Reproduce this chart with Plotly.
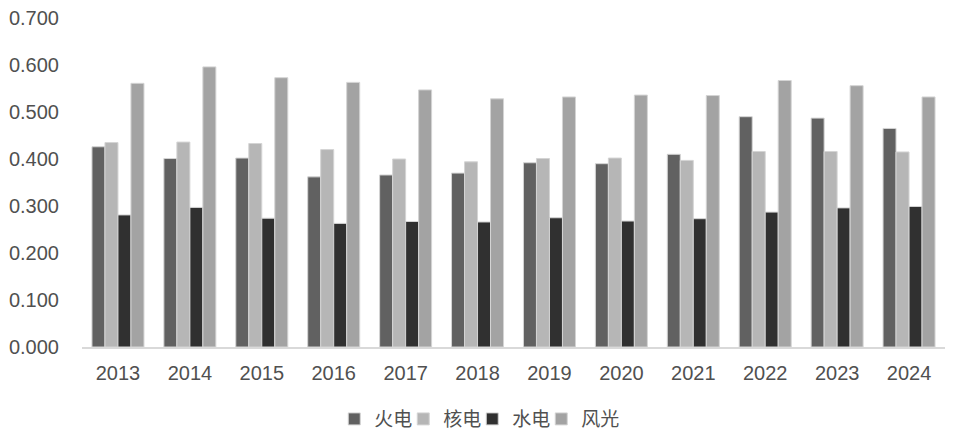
import plotly.graph_objects as go

years = ["2013", "2014", "2015", "2016", "2017", "2018", "2019", "2020", "2021", "2022", "2023", "2024"]
thermal = [0.426, 0.401, 0.402, 0.362, 0.366, 0.370, 0.392, 0.390, 0.410, 0.490, 0.487, 0.465]
nuclear = [0.435, 0.436, 0.433, 0.420, 0.400, 0.394, 0.401, 0.402, 0.397, 0.416, 0.416, 0.415]
hydro = [0.281, 0.297, 0.274, 0.263, 0.267, 0.266, 0.275, 0.268, 0.273, 0.287, 0.296, 0.299]
windsolar = [0.561, 0.596, 0.573, 0.563, 0.547, 0.528, 0.532, 0.536, 0.535, 0.567, 0.556, 0.532]

series_names = ["火电", "核电", "水电", "风光"]
series_values = [thermal, nuclear, hydro, windsolar]
colors = ["#616161", "#b6b6b6", "#303030", "#a3a3a3"]

fig = go.Figure()
for name, vals, col in zip(series_names, series_values, colors):
    fig.add_trace(go.Bar(
        x=years, y=vals, name=name,
        marker=dict(color=col, line=dict(color="#d4d4d4", width=1)),
    ))

# transparent spacer entry so the last legend label is not clipped
fig.add_trace(go.Scatter(
    x=[None], y=[None], mode="markers", name=" ",
    marker=dict(color="rgba(0,0,0,0)", size=1), hoverinfo="skip",
))

fig.update_layout(
    width=955, height=438,
    margin=dict(l=82, r=10, t=18, b=91, autoexpand=False),
    paper_bgcolor="white", plot_bgcolor="white",
    barmode="group", bargap=0.277, bargroupgap=0,
    font=dict(family="Arial, 'Liberation Sans', 'Noto Sans CJK SC'", size=20, color="#505050"),
    showlegend=True,
    legend=dict(
        orientation="h", xref="container", x=0.35, xanchor="left",
        yref="paper", y=-0.219, yanchor="middle",
        font=dict(family="'Noto Sans CJK SC', Arial", size=19, color="#505050"),
        itemwidth=30, traceorder="normal",
        entrywidth=24, entrywidthmode="pixels",
    ),
    xaxis=dict(
        showgrid=False, showline=True, linecolor="#d9d9d9", linewidth=1.5,
        ticks="", ticklabelstandoff=7, automargin=False,
    ),
    yaxis=dict(
        range=[0, 0.7], dtick=0.1, tickformat=".3f",
        showgrid=False, showline=False, zeroline=False,
        ticks="", ticklabelstandoff=22, automargin=False,
    ),
)

fig.write_html(
    "out.html",
    config={"displayModeBar": False},
    post_script="document.body.style.margin='0';document.body.style.padding='0';",
)
